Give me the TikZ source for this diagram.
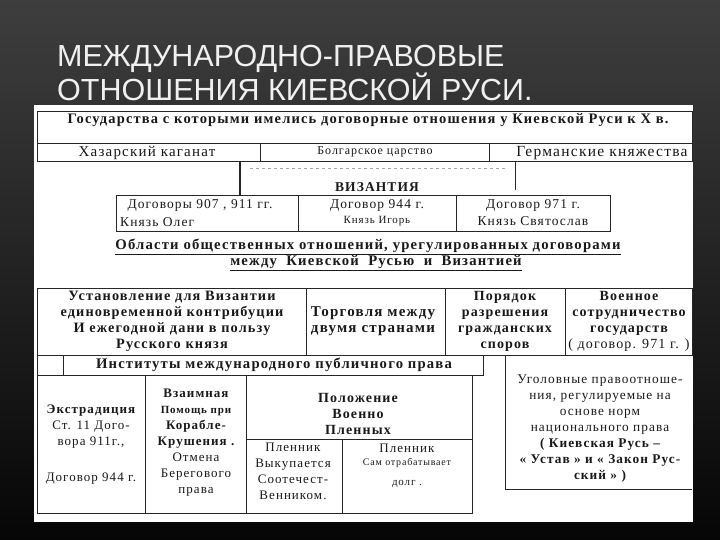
\documentclass[tikz,border=0pt]{standalone}
\usepackage{fontspec}
\setmainfont{Liberation Serif}
\newfontfamily\titlefont{Liberation Sans}
\newfontfamily\scan[LetterSpace=8]{Liberation Serif}
\begin{document}
\begin{tikzpicture}[x=1pt,y=-1pt,
  cell/.style={draw=black!85, line width=0.9pt},
  faint/.style={draw=black!35, line width=0.6pt, dashed},
  txt/.style={inner sep=0pt, align=center, text=black!90},
  sz/.style={font=\scan\fontsize{#1}{16}\selectfont},
  bsz/.style={font=\scan\bfseries\fontsize{#1}{16}\selectfont},
  ttl/.style={anchor=base west, inner sep=0pt, text=white!94!black,
    font=\titlefont\fontsize{30.5}{30}\selectfont}]
\useasboundingbox (0,0) rectangle (720,540);
\shade[top color={rgb,255:red,62;green,62;blue,62}, bottom color={rgb,255:red,6;green,6;blue,6}] (0,0) rectangle (720,540);
% title
\node[ttl] (t1) at (57,67) {МЕЖДУНАРОДНО-ПРАВОВЫЕ};
\node[ttl] (t2) at (57,101) {ОТНОШЕНИЯ КИЕВСКОЙ РУСИ.};
% scanned sheet
\fill[white] (34,105) rectangle (693,522);
% header and states
\draw[cell] (37,111) rectangle (692,143);
\draw[cell] (37,143) rectangle (692,161);
\draw[cell] (260,143) -- (260,161);
\draw[cell] (489,143) -- (489,161);
% Byzantium
\draw[cell, line width=1.8pt] (240,161) -- (240,195);
\draw[cell] (515,161) -- (515,190);
\draw[faint] (250,168) -- (505,168);
\draw[cell] (116,195) rectangle (610,231);
\draw[cell] (298,195) -- (298,231);
\draw[cell] (456,195) -- (456,231);
% areas row
\draw[cell] (37,288) rectangle (692,355);
\draw[cell] (306,288) -- (306,355);
\draw[cell] (445,288) -- (445,355);
\draw[cell] (565,288) -- (565,355);
% institutes
\draw[cell] (37,355) rectangle (483,375);
\draw[cell] (63,355) -- (63,375);
\draw[cell] (37,375) -- (37,513) -- (472,513) -- (472,375);
\draw[cell] (145,375) -- (145,513);
\draw[cell] (246,375) -- (246,513);
\draw[cell] (246,439) -- (472,439);
\draw[cell] (342,439) -- (342,513);
\draw[cell] (505,355) -- (505,489) -- (692,489);
% texts
\node[txt, bsz=14.5] (hdr) at (368,120) {Государства с которыми имелись договорные отношения у Киевской Руси к X в.};
\node[txt, sz=15] (haz) at (147,153) {Хазарский каганат};
\node[txt, sz=12] (bolg) at (375,152) {Болгарское царство};
\node[txt, sz=15.5] (germ) at (602,153) {Германские княжества};
\node[txt, bsz=13.5] (byz) at (377,187) {ВИЗАНТИЯ};
\node[txt, sz=13.5] (d907) at (200,205) {Договоры 907 , 911 гг.};
\node[txt, sz=13.5, anchor=west] (oleg) at (120,222) {Князь Олег};
\node[txt, sz=13.5] (d944) at (377,205) {Договор 944 г.};
\node[txt, sz=11] (igor) at (377,221) {Князь Игорь};
\node[txt, sz=13.5] (d971) at (533,205) {Договор 971 г.};
\node[txt, sz=13.5] (svyat) at (533,221) {Князь Святослав};
\node[txt, bsz=14.7] (obl) at (368,247) {\underline{Области общественных отношений, урегулированных договорами}};
\node[txt, bsz=14.7] (mezh) at (376,263) {\underline{между\hspace{4.5pt} Киевской\hspace{4.5pt} Русью\hspace{4.5pt} и\hspace{4.5pt} Византией}};
\node[txt, bsz=14.3] (ust) at (172,321) {Установление для Византии\\единовременной контрибуции\\И ежегодной дани в пользу\\Русского князя};
\node[txt, bsz=15] (torg) at (373,321) {Торговля между\\двумя странами};
\node[txt, bsz=14] (por) at (505,321) {Порядок\\разрешения\\гражданских\\споров};
\node[txt, bsz=14] (voen) at (629,321) {Военное\\сотрудничество\\государств\\\mdseries( договор. 971 г. )};
\node[txt, bsz=14.7] (inst) at (274,365) {Институты международного публичного права};
\node[txt, sz=13] (extr) at (91,445) {\bfseries Экстрадиция\\Ст. 11 Дого-\\вора 911г.,\\[20pt]Договор 944 г.};
\node[txt, bsz=13] (vz) at (196,443) {Взаимная\\{\fontsize{11}{16}\selectfont Помощь при}\\Корабле-\\Крушения .\\\mdseries Отмена\\\mdseries Берегового\\\mdseries права};
\node[txt, bsz=14] (pol) at (358,414) {Положение\\Военно\\Пленных};
\node[txt, sz=13] (pl1) at (293,471) {Пленник\\Выкупается\\Соотечест-\\Венником.};
\node[txt, sz=13] (pl2) at (407,448) {Пленник};
\node[txt, sz=10] (pl2b) at (407,463) {Сам отрабатывает};
\node[txt, sz=11] (pl2c) at (407,484) {долг .};
\node[txt, sz=13.3] (ugol) at (600,429) {Уголовные правоотноше-\\ния, регулируемые на\\основе норм\\национального права\\\bfseries ( Киевская Русь –\\\bfseries « Устав » и « Закон Рус-\\\bfseries ский » )};
\end{tikzpicture}
\end{document}
